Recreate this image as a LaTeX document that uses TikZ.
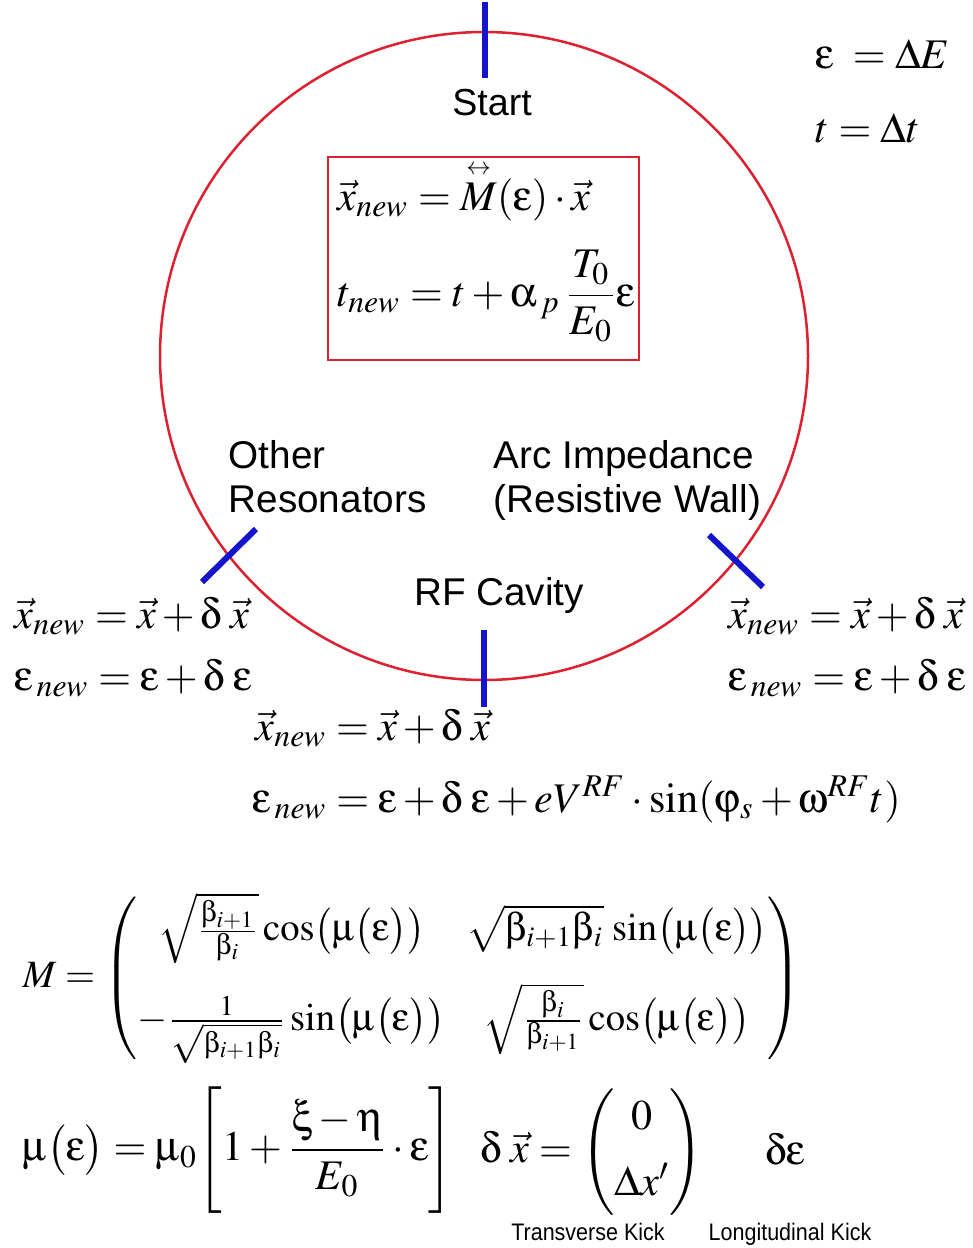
\documentclass[tikz,border=0pt]{standalone}
\usepackage{amsmath}
\usepackage{mathptmx}
\usepackage[Symbol]{upgreek}
\usepackage{fontspec}
\setmainfont{Liberation Serif}
\setsansfont{Liberation Sans}
\newfontfamily\narrowsans[FakeStretch=0.9]{Liberation Sans}
\usetikzlibrary{positioning}

\definecolor{ringred}{RGB}{222,32,48}
\definecolor{kickblue}{RGB}{20,20,205}

\tikzset{
  ring/.style={draw=ringred, line width=0.025cm},
  kickmark/.style={draw=kickblue, line width=0.06cm},
  place/.style={font=\sffamily\fontsize{11}{12.5}\selectfont, inner sep=0pt, align=left},
  eqn/.style={font=\fontsize{12}{15}\selectfont, inner sep=0pt, anchor=base west},
  kicklabel/.style={font=\narrowsans\fontsize{6.8}{8}\selectfont, inner sep=0pt, anchor=base}
}

\begin{document}
\begin{tikzpicture}[x=0.01cm,y=-0.01cm]
\useasboundingbox (0,0) rectangle (972,1248);

% ring and kick points
\draw[ring] (484,356) circle [radius=324];
\draw[kickmark] (485,2) -- (485,78);
\draw[kickmark] (484,630) -- (484,707);
\draw[kickmark] (202,582) -- (256,529);
\draw[kickmark] (709,535) -- (763,587);
\draw[draw=ringred, line width=0.012cm] (328,157) rectangle (639,360);

% locations
\node[place, anchor=base, font=\sffamily\fontsize{10.7}{12.5}\selectfont] (start) at (492,115) {Start};
\node[place, anchor=base west] (other) at (228,512) {Other\\Resonators};
\node[place, anchor=base west] (arc) at (493,512) {Arc Impedance\\(Resistive Wall)};
\node[place, anchor=base] (rf) at (499,605) {RF Cavity};

% definitions
\node[eqn] (defeps) at (815,68) {$\upepsilon\;=\Delta E$};
\node[eqn] (deft) at (815,142) {$t=\Delta t$};

% one turn map
\node[eqn] (mapx) at (337,210) {$\vec{x}_{new}=\overset{\scriptscriptstyle\leftrightarrow}{M}(\upepsilon)\cdot\vec{x}$};
\node[eqn] (mapt) at (337,306) {$t_{new}=t+\upalpha_{\,p}\,\dfrac{T_0}{E_0}\upepsilon$};

% kicks
\node[eqn] (leftx) at (14,628) {$\vec{x}_{new}=\vec{x}+\updelta\;\vec{x}$};
\node[eqn] (lefte) at (14,690) {$\upepsilon_{\,new}=\upepsilon+\updelta\;\upepsilon$};
\node[eqn] (rightx) at (728,628) {$\vec{x}_{new}=\vec{x}+\updelta\;\vec{x}$};
\node[eqn] (righte) at (728,690) {$\upepsilon_{\,new}=\upepsilon+\updelta\;\upepsilon$};
\node[eqn] (rfx) at (255,740) {$\vec{x}_{new}=\vec{x}+\updelta\;\vec{x}$};
\node[eqn] (rfe) at (252,812) {$\upepsilon_{\,new}=\upepsilon+\updelta\;\upepsilon+eV^{RF}\cdot\sin(\upvarphi_s+\upomega^{RF}t)$};

% transfer matrix
\node[eqn, anchor=west, font=\fontsize{11}{13.5}\selectfont] (matrix) at (22,978) {$M=\left(\begin{array}{@{}c@{\hspace{6pt}}c@{}}
\sqrt{\frac{\upbeta_{i+1}}{\upbeta_i}}\cos\bigl(\upmu\bigl(\upepsilon\bigr)\bigr) &
\sqrt{\upbeta_{i+1}\upbeta_i}\,\sin\bigl(\upmu\bigl(\upepsilon\bigr)\bigr)\\[8pt]
-\frac{1}{\sqrt{\upbeta_{i+1}\upbeta_i}}\sin\bigl(\upmu\bigl(\upepsilon\bigr)\bigr) &
\sqrt{\frac{\upbeta_i}{\upbeta_{i+1}}}\cos\bigl(\upmu\bigl(\upepsilon\bigr)\bigr)
\end{array}\right)$};

% tune shift and kicks
\node[eqn, anchor=west] (tune) at (22,1150) {$\upmu\bigl(\upepsilon\bigr)=\upmu_0\Biggl[1+\dfrac{\upxi-\upeta}{E_0}\cdot\upepsilon\Biggr]$};
\node[eqn, anchor=west] (kickx) at (480,1152) {$\updelta\;\vec{x}=\left(\begin{array}{@{}c@{}}0\\[4pt] \Delta x'\end{array}\right)$};
\node[eqn, anchor=west] (kicke) at (765,1150) {$\updelta\upepsilon$};
\node[kicklabel] (translab) at (588,1240) {Transverse Kick};
\node[kicklabel] (longlab) at (790,1240) {Longitudinal Kick};
\end{tikzpicture}
\end{document}
